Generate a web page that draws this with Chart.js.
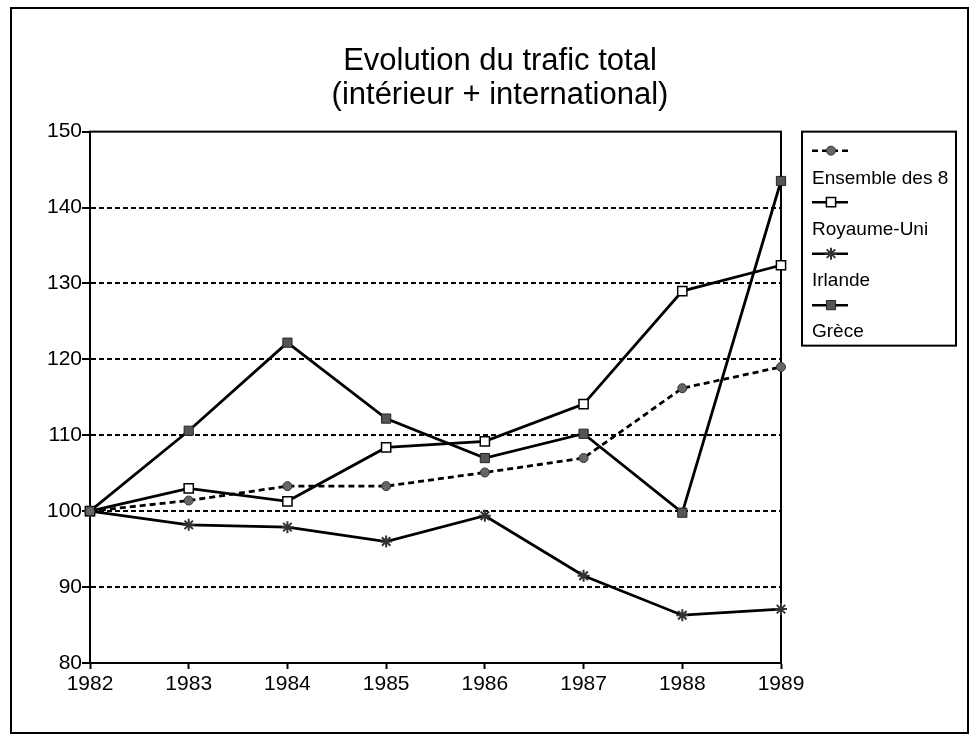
<!DOCTYPE html>
<html><head><meta charset="utf-8">
<script src="https://cdn.jsdelivr.net/npm/chart.js@4"></script>
<style>html,body{margin:0;padding:0;background:#fff}canvas{display:block}</style>
</head><body>
<canvas id="c" width="973" height="737"></canvas>
<script>
const years = ['1982','1983','1984','1985','1986','1987','1988','1989'];
const ensemble   = [100, 101.4, 103.3, 103.3, 105.1, 107.0, 116.2, 119.0];
const royaumeUni = [100, 103.0, 101.3, 108.4, 109.2, 114.1, 129.0, 132.4];
const irlande    = [100,  98.2,  97.9,  96.0,  99.4,  91.5,  86.3,  87.1];
const grece      = [100, 110.6, 122.2, 112.2, 107.0, 110.2,  99.8, 143.5];
const seriesNames = ['Ensemble des 8', 'Royaume-Uni', 'Irlande', 'Grèce'];
const titleLines = ['Evolution du trafic total', '(intérieur + international)'];
const yMin = 80, yMax = 150, yStep = 10;

const FONT = "'Liberation Sans', Arial, Helvetica, sans-serif";

const pageFrame = {
  id: 'pageFrame',
  beforeDraw(chart) {
    const ctx = chart.ctx;
    ctx.save();
    ctx.fillStyle = '#fff';
    ctx.fillRect(0, 0, chart.width, chart.height);
    ctx.strokeStyle = '#000';
    ctx.lineWidth = 2;
    ctx.strokeRect(11, 8, 957, 725);
    ctx.restore();
  }
};

const plotFrame = {
  id: 'plotFrame',
  beforeDatasetsDraw(chart) {
    const a = chart.chartArea, ctx = chart.ctx;
    ctx.save();
    ctx.strokeStyle = '#000';
    ctx.lineWidth = 2;
    ctx.strokeRect(a.left, a.top, a.right - a.left, a.bottom - a.top);
    ctx.restore();
  }
};

function marker(ctx, style, r, x, y, fill, stroke, bw) {
  if (Chart.helpers && Chart.helpers.drawPoint) {
    ctx.save();
    ctx.fillStyle = fill; ctx.strokeStyle = stroke; ctx.lineWidth = bw;
    ctx.setLineDash([]);
    Chart.helpers.drawPoint(ctx, {pointStyle: style, radius: r, rotation: 0, borderWidth: bw}, x, y);
    ctx.restore();
  }
}

const boxLegend = {
  id: 'boxLegend',
  afterDraw(chart) {
    const a = chart.chartArea, ctx = chart.ctx;
    const left = a.right + 21, top = a.top, w = 154, h = 214;
    ctx.save();
    ctx.strokeStyle = '#000';
    ctx.lineWidth = 2;
    ctx.strokeRect(left, top, w, h);
    chart.data.datasets.forEach((ds, i) => {
      const sy = top + 19 + i * 51.5;
      const ty = top + 47 + i * 51;
      ctx.save();
      ctx.strokeStyle = ds.borderColor;
      ctx.lineWidth = 2.5;
      ctx.setLineDash(ds.borderDash || []);
      ctx.beginPath();
      ctx.moveTo(left + 10, sy);
      ctx.lineTo(left + 46, sy);
      ctx.stroke();
      ctx.restore();
      marker(ctx, ds.pointStyle, ds.pointRadius, left + 29, sy, ds.pointBackgroundColor, ds.pointBorderColor, ds.pointBorderWidth);
      ctx.fillStyle = '#000';
      ctx.font = '19px ' + FONT;
      ctx.textBaseline = 'middle';
      ctx.textAlign = 'left';
      ctx.fillText(ds.label, left + 10, ty);
    });
    ctx.restore();
  }
};

const ctx = document.getElementById('c').getContext('2d');
new Chart(ctx, {
  type: 'line',
  data: {
    labels: years,
    datasets: [
      { label: seriesNames[0], data: ensemble, borderColor: '#000', borderWidth: 2.8, borderDash: [6, 4],
        pointStyle: 'circle', pointRadius: 4.5, pointBackgroundColor: '#666', pointBorderColor: '#333', pointBorderWidth: 1 },
      { label: seriesNames[1], data: royaumeUni, borderColor: '#000', borderWidth: 2.8,
        pointStyle: 'rect', pointRadius: 6.5, pointBackgroundColor: '#fff', pointBorderColor: '#000', pointBorderWidth: 1.5 },
      { label: seriesNames[2], data: irlande, borderColor: '#000', borderWidth: 2.8,
        pointStyle: 'star', pointRadius: 6, pointBackgroundColor: '#555', pointBorderColor: '#333', pointBorderWidth: 2 },
      { label: seriesNames[3], data: grece, borderColor: '#000', borderWidth: 2.8,
        pointStyle: 'rect', pointRadius: 6.5, pointBackgroundColor: '#555', pointBorderColor: '#222', pointBorderWidth: 1 }
    ]
  },
  options: {
    responsive: false,
    animation: false,
    devicePixelRatio: 1,
    layout: { padding: { left: 27, right: 0, top: 8, bottom: 0 } },
    elements: { line: { tension: 0, fill: false } },
    plugins: {
      legend: { display: false },
      tooltip: { enabled: false },
      title: {
        display: true,
        text: titleLines,
        color: '#000',
        font: { family: FONT, size: 31, weight: 'normal', lineHeight: 1.075 },
        padding: { top: 37, bottom: 20 }
      }
    },
    scales: {
      x: {
        type: 'category',
        offset: false,
        grid: { display: true, drawOnChartArea: false, drawTicks: true, tickLength: 6, tickColor: '#000', tickWidth: 2 },
        border: { display: true, color: '#000', width: 2 },
        ticks: { color: '#000', font: { family: FONT, size: 21 }, padding: 3, maxRotation: 0, autoSkip: false },
        afterFit(s) { s.height = 74; }
      },
      y: {
        type: 'linear',
        min: yMin, max: yMax,
        grid: {
          color: c => (c.tick && (c.tick.value === yMin || c.tick.value === yMax)) ? 'rgba(0,0,0,0)' : '#000',
          lineWidth: 2, tickColor: '#000', tickWidth: 2, tickLength: 8, drawTicks: true
        },
        border: { display: true, color: '#000', width: 2, dash: [5, 3] },
        ticks: { stepSize: yStep, color: '#000', font: { family: FONT, size: 21 }, padding: 0 },
        afterFit(s) { s.width = 63; }
      },
      yLegendSpace: {
        type: 'linear',
        position: 'right',
        min: yMin, max: yMax,
        grid: { display: false },
        border: { display: false },
        ticks: { display: false },
        afterFit(s) { s.width = 192; }
      }
    }
  },
  plugins: [pageFrame, plotFrame, boxLegend]
});
</script>
</body></html>
